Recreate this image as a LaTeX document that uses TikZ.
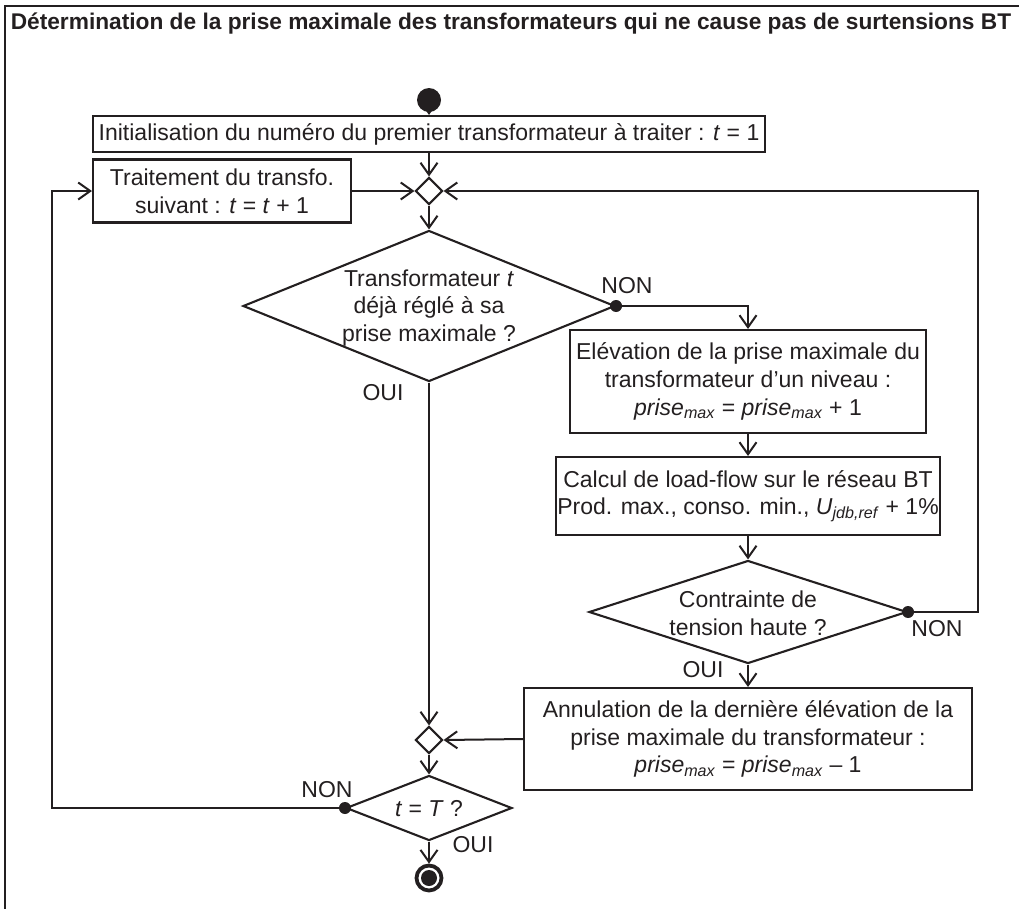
\documentclass[tikz,border=0pt]{standalone}
\usepackage{fontspec}
\setmainfont{Liberation Sans}
\usetikzlibrary{shapes.geometric,arrows.meta}
\definecolor{ink}{RGB}{35,31,32}
\newcommand\prisemax{\textit{prise}\textsubscript{\textit{max}}}
\begin{document}
\begin{tikzpicture}[x=1pt,y=-1pt,
  every node/.style={font=\fontsize{23}{27.6}\selectfont, text=ink},
  box/.style={draw=ink, line width=2.1pt, align=center, inner sep=0pt},
  dia/.style={diamond, draw=ink, line width=2.1pt, inner sep=0pt},
  txt/.style={align=center, inner sep=0pt},
  arr/.style={draw=ink, line width=2pt, -{Straight Barb[length=12pt,width=17pt]}},
  dot/.style={circle, fill=ink, minimum size=12pt, inner sep=0pt},
  lab/.style={inner sep=0pt},
  startnode/.style={circle, fill=ink, minimum size=24pt, inner sep=0pt},
  endnode/.style={circle, draw=ink, line width=3.8pt, minimum size=25pt, inner sep=0pt,
    path picture={\fill[ink] (path picture bounding box.center) circle (8pt);}}
]
\useasboundingbox (0,0) rectangle (1019,908);
\draw[ink, line width=2.2pt] (5,915) -- (5,6) -- (1030,6);
\node[font=\bfseries\fontsize{22.7}{27}\selectfont, lab] (title) at (511,24)
  {Détermination de la prise maximale des transformateurs qui ne cause pas de surtensions BT};

\node[startnode] (start) at (429,100) {};
\node[box, minimum width=672pt, minimum height=36pt] (init) at (429,134)
  {Initialisation du numéro du premier transformateur à traiter : \textit{t} = 1};
\node[dia, minimum width=27pt, minimum height=27pt] (m1) at (429,191) {};
\node[box, minimum width=258pt, minimum height=63pt] (trait) at (222,191)
  {Traitement du transfo.\\ suivant : \textit{t} = \textit{t} + 1};
\node[dia, minimum width=372pt, minimum height=151pt] (d1) at (429,306) {};
\node[txt] (d1t) at (429,308) {Transformateur \textit{t}\\ déjà réglé à sa\\ prise maximale ?};
\node[box, minimum width=356pt, minimum height=103pt] (elev) at (748,381.5)
  {Elévation de la prise maximale du\\ transformateur d’un niveau :\\ \prisemax{} = \prisemax{} + 1};
\node[box, minimum width=384pt, minimum height=78pt] (calc) at (748,496)
  {Calcul de load-flow sur le réseau BT\\ Prod. max., conso. min., \textit{U}\textsubscript{\textit{jdb,ref}} + 1\%};
\node[dia, minimum width=318pt, minimum height=103pt] (d2) at (748,612) {};
\node[txt] (d2t) at (748,613) {Contrainte de\\ tension haute ?};
\node[box, minimum width=448pt, minimum height=102pt] (annul) at (748,739)
  {Annulation de la dernière élévation de la\\ prise maximale du transformateur :\\ \prisemax{} = \prisemax{} – 1};
\node[dia, minimum width=27pt, minimum height=27pt] (m2) at (429,740) {};
\node[dia, minimum width=166pt, minimum height=65pt] (d3) at (429,808) {};
\node[txt] (d3t) at (429,809) {\textit{t} = \textit{T} ?};
\node[endnode] (end) at (429,878) {};

\coordinate (r1) at (978,612);
\coordinate (l1) at (52,808);

\draw[arr] (start) -- (init);
\draw[arr] (init.south) -- (m1.north);
\draw[arr] (trait.east) -- (m1.west);
\draw[arr] (m1.south) -- (d1.north);
\draw[arr] (d1.east) -| (elev.north);
\draw[arr] (elev.south) -- (calc.north);
\draw[arr] (calc.south) -- (d2.north);
\draw[arr] (d2.east) -- (r1) |- (m1.east);
\draw[arr] (d2.south) -- (annul.north);
\draw[arr] (annul.west) -- (m2.east);
\draw[arr] (d1.south) -- (m2.north);
\draw[arr] (m2.south) -- (d3.north);
\draw[arr] (d3.west) -- (l1) |- (trait.west);
\draw[arr] (d3.south) -- (end.north);

\node[dot] (p1) at (d1.east) {};
\node[dot] (p2) at (d2.east) {};
\node[dot] (p3) at (d3.west) {};

\node[lab] (non1) at (627,286) {NON};
\node[lab] (oui1) at (383,393) {OUI};
\node[lab] (non2) at (937,629) {NON};
\node[lab] (oui2) at (703,670) {OUI};
\node[lab] (non3) at (327,790) {NON};
\node[lab] (oui3) at (473,845) {OUI};
\end{tikzpicture}
\end{document}
